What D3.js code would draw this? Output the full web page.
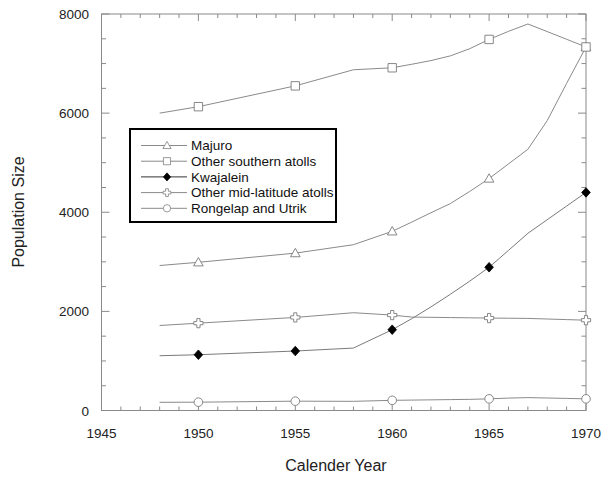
<!DOCTYPE html>
<html><head><meta charset="utf-8">
<script src="https://cdn.jsdelivr.net/npm/d3@7"></script>
<style>body{margin:0;background:#fff}svg{display:block;font-family:"Liberation Sans",Arial,sans-serif}</style>
</head><body>
<svg id="chart" width="609" height="478"></svg>
<script>
const years = [1948,1950,1955,1958,1960,1961,1962,1963,1964,1965,1966,1967,1968,1969,1970];
const markerYears = [1950,1955,1960,1965,1970];
const majuro    = [2925,2990,3175,3345,3615,3800,3990,4175,4420,4680,4975,5270,5850,6600,7335];
const southern  = [6000,6130,6550,6875,6915,6985,7060,7155,7300,7487,7650,7798,7645,7490,7335];
const kwajalein = [1105,1125,1200,1260,1630,1850,2090,2345,2610,2890,3230,3575,3850,4125,4400];
const midlat    = [1715,1762,1878,1973,1925,1885,1880,1875,1870,1865,1862,1858,1846,1834,1822];
const rongelap  = [165,168,188,185,205,210,215,220,225,235,250,260,252,244,235];
const seriesNames = ["Majuro","Other southern atolls","Kwajalein","Other mid-latitude atolls","Rongelap and Utrik"];
const xTicks = [1945,1950,1955,1960,1965,1970];
const yTicks = [0,2000,4000,6000,8000];

const series = [
  {name: seriesNames[0], values: majuro, shape: "triangle"},
  {name: seriesNames[1], values: southern, shape: "square"},
  {name: seriesNames[2], values: kwajalein, shape: "diamond"},
  {name: seriesNames[3], values: midlat, shape: "cross"},
  {name: seriesNames[4], values: rongelap, shape: "circle"}
];

const svg = d3.select("#chart");
const L = 101.5, R = 586, T = 14, B = 410.5;
const x = d3.scaleLinear().domain([1945,1970]).range([L,R]);
const y = d3.scaleLinear().domain([0,8000]).range([B,T]);
const frameColor = "#8a8a8a", lineColor = "#8a8a8a", mColor = "#7a7a7a";

function shapePath(s){
  const p = d3.path();
  if (s === "triangle"){ const h=4.8; p.moveTo(0,-h); p.lineTo(4.8,3.6); p.lineTo(-4.8,3.6); p.closePath(); }
  else if (s === "square"){ p.rect(-4.2,-4.2,8.4,8.4); }
  else if (s === "diamond"){ p.moveTo(0,-4.8); p.lineTo(4.3,0); p.lineTo(0,4.8); p.lineTo(-4.3,0); p.closePath(); }
  else if (s === "cross"){ const a=1.6,b=4.6; p.moveTo(-a,-b); p.lineTo(a,-b); p.lineTo(a,-a); p.lineTo(b,-a); p.lineTo(b,a); p.lineTo(a,a); p.lineTo(a,b); p.lineTo(-a,b); p.lineTo(-a,a); p.lineTo(-b,a); p.lineTo(-b,-a); p.lineTo(-a,-a); p.closePath(); }
  else { p.arc(0,0,4.3,0,2*Math.PI); }
  return p.toString();
}
function styleMarker(sel, s){
  if (s === "diamond") sel.attr("fill","#000").attr("stroke","#000").attr("stroke-width",0.8);
  else sel.attr("fill","#fff").attr("stroke",mColor).attr("stroke-width",0.9);
}

// frame
svg.append("rect").attr("x",L).attr("y",T).attr("width",R-L).attr("height",B-T)
  .attr("fill","none").attr("stroke",frameColor).attr("stroke-width",1);

// ticks
const g = svg.append("g").attr("stroke",frameColor).attr("stroke-width",1);
d3.range(1945,1971).forEach(yr => {
  const major = yr % 5 === 0; const len = major ? 7 : 4;
  g.append("line").attr("x1",x(yr)).attr("x2",x(yr)).attr("y1",B).attr("y2",B-len);
  g.append("line").attr("x1",x(yr)).attr("x2",x(yr)).attr("y1",T).attr("y2",T+len);
});
d3.range(0,8001,500).forEach(v => {
  const major = v % 2000 === 0; const len = major ? 8 : 4.5;
  g.append("line").attr("x1",L).attr("x2",L+len).attr("y1",y(v)).attr("y2",y(v));
  g.append("line").attr("x1",R).attr("x2",R-len).attr("y1",y(v)).attr("y2",y(v));
});

// tick labels
svg.append("g").selectAll("text").data(xTicks).join("text")
  .attr("x",d=>x(d)).attr("y",437.5).attr("text-anchor","middle")
  .attr("font-size",13.5).attr("fill","#222").text(d=>d);
svg.append("g").selectAll("text").data(yTicks).join("text")
  .attr("x",89).attr("y",d=>y(d)+5).attr("text-anchor","end")
  .attr("font-size",13.5).attr("fill","#222").text(d=>d);

// axis titles
svg.append("text").attr("x",336).attr("y",471).attr("text-anchor","middle")
  .attr("font-size",16).attr("fill","#222").text("Calender Year");
svg.append("text").attr("transform","translate(24,212) rotate(-90)").attr("text-anchor","middle")
  .attr("font-size",16).attr("fill","#222").text("Population Size");

// lines
const line = d3.line().x((d,i)=>x(years[i])).y(d=>y(d));
series.forEach(s => {
  svg.append("path").attr("d",line(s.values)).attr("fill","none")
    .attr("stroke", s.shape==="diamond" ? "#7a7a7a" : lineColor).attr("stroke-width",1);
});
// markers
series.forEach(s => {
  const pts = markerYears.map(yr => ({yr, v: s.values[years.indexOf(yr)]}));
  const sel = svg.append("g").selectAll("path").data(pts).join("path")
    .attr("d", shapePath(s.shape))
    .attr("transform", d=>`translate(${x(d.yr)},${y(d.v)})`);
  styleMarker(sel, s.shape);
});

// legend
const lg = svg.append("g");
lg.append("rect").attr("x",130).attr("y",129).attr("width",206).attr("height",93)
  .attr("fill","#fff").attr("stroke","#000").attr("stroke-width",2);
series.forEach((s,i) => {
  const cy = 145.5 + i*15.7;
  lg.append("line").attr("x1",141).attr("x2",187).attr("y1",cy).attr("y2",cy)
    .attr("stroke", s.shape==="diamond" ? "#333" : lineColor).attr("stroke-width",1);
  const m = lg.append("path").attr("d",shapePath(s.shape)).attr("transform",`translate(167,${cy}) scale(0.85)`);
  styleMarker(m, s.shape);
  lg.append("text").attr("x",191).attr("y",cy+4.8).attr("font-size",13.5).attr("fill","#111").text(s.name);
});
</script>
</body></html>
